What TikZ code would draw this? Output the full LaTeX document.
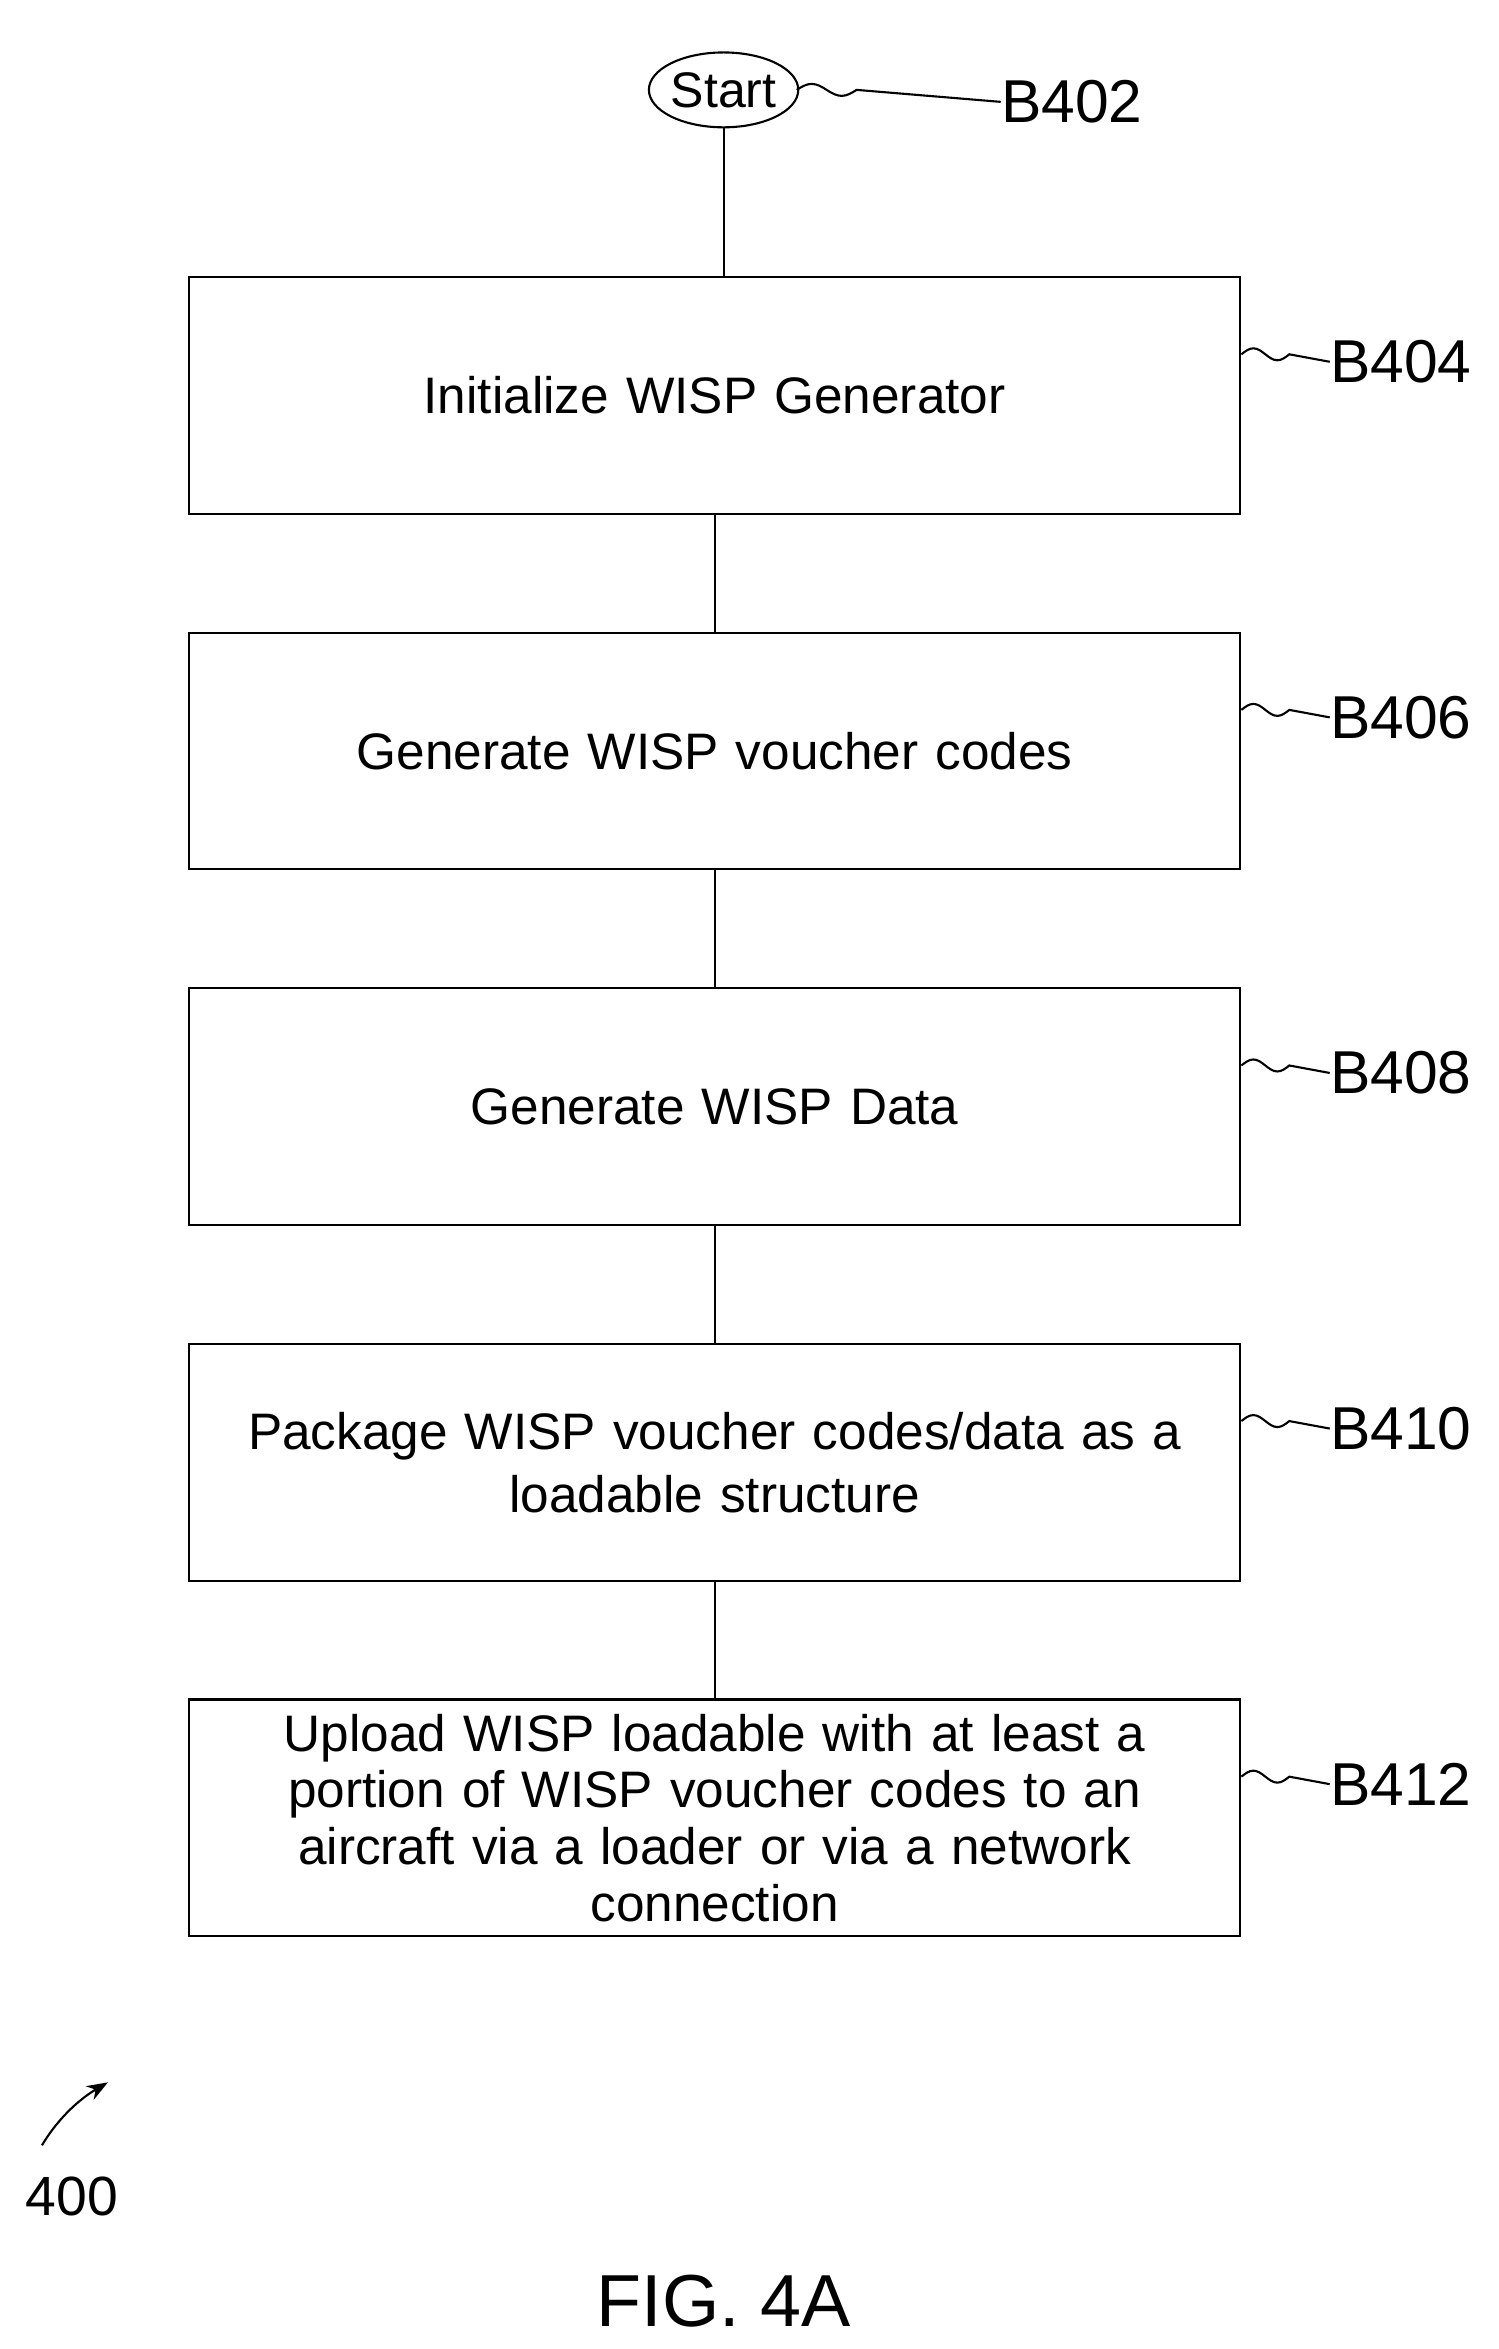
\documentclass[tikz,border=0pt]{standalone}
\usepackage{fontspec}
\setmainfont{Liberation Sans}
\usetikzlibrary{positioning,shapes.geometric,arrows.meta}

\begin{document}
\begin{tikzpicture}[
      x=0.02cm,y=-0.02cm,
      block/.style={
        rectangle,
        draw,
        thick,
        text width=13.5cm,
        align=center,
        minimum width=14.04cm,
        minimum height=3.16cm,
        font=\fontsize{19.5}{24}\selectfont
      },
      term/.style={ellipse,draw,thick,minimum width=1.56cm,minimum height=1cm,inner sep=0pt,font=\fontsize{19}{22}\selectfont},
      link/.style={thick},
      tag/.style={font=\fontsize{23}{26}\selectfont,anchor=west,inner sep=0pt},
      wave/.style={thick}
    ]
    \useasboundingbox (0,0) rectangle (1000,1568);

    % Start and steps
    \node[term] (start) at (483,60) {Start};
    \node[block] (init) at (477,264) {Initialize WISP Generator};
    \node[block,below=1.56cm of init] (codes) {Generate WISP voucher codes};
    \node[block,below=1.56cm of codes] (data) {Generate WISP Data};
    \node[block,below=1.56cm of data] (pack) {Package WISP voucher codes/data as a\\loadable structure};
    \node[block,below=1.56cm of pack,font=\fontsize{19.5}{21.5}\selectfont] (upload) {Upload WISP loadable with at least a\\portion of WISP voucher codes to an\\aircraft via a loader or via a network\\connection};

    \draw[link] (start) -- (start |- init.north);
    \draw[link] (init) -- (codes);
    \draw[link] (codes) -- (data);
    \draw[link] (data) -- (pack);
    \draw[link] (pack) -- (upload);

    % Reference labels
    \node[tag] (b402) at (668,68) {B402};
    \draw[wave] ([xshift=-1pt]start.east) sin ++(10,-4) cos ++(10,4) sin ++(10,4) cos ++(10,-4) -- (b402.west);
    \foreach \blk/\lab in {init/B404,codes/B406,data/B408,pack/B410,upload/B412}{
      \node[tag] (t\lab) at ([xshift=1.18cm,yshift=0.45cm]\blk.east) {\lab};
      \draw[wave] ([yshift=0.55cm]\blk.east) sin ++(8,-4) cos ++(8,4) sin ++(8,4) cos ++(8,-4) -- (t\lab.west);
    }

    % Figure labels
    \node[font=\fontsize{21}{24}\selectfont] (num) at (48,1466) {400};
    \coordinate (tail) at (28,1432);
    \draw[thick,-{Stealth[length=8pt]}] (tail) .. controls (40,1412) and (55,1400) .. (72,1390);
    \node[font=\fontsize{28}{30}\selectfont] (fig) at (483,1536) {FIG. 4A};
\end{tikzpicture}
\end{document}
